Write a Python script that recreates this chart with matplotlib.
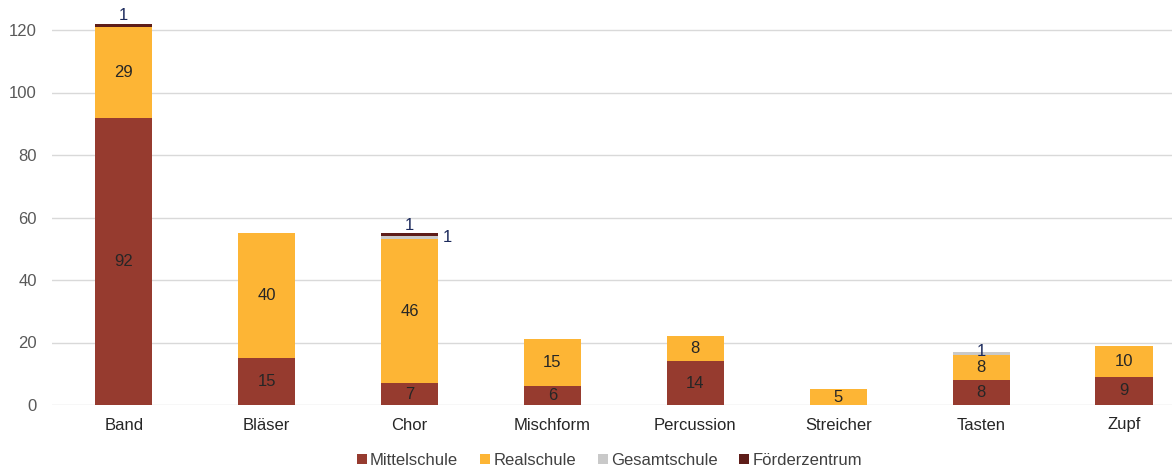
import matplotlib
matplotlib.use("Agg")
import matplotlib.pyplot as plt
import numpy as np

plt.rcParams['font.family'] = ['Liberation Sans', 'DejaVu Sans']

categories = ["Band", "Bläser", "Chor", "Mischform", "Percussion", "Streicher", "Tasten", "Zupf"]
mittelschule = [92, 15, 7, 6, 14, 0, 8, 9]
realschule = [29, 40, 46, 15, 8, 5, 8, 10]
gesamtschule = [0, 0, 1, 0, 0, 0, 1, 0]
foerderzentrum = [1, 0, 1, 0, 0, 0, 0, 0]
y_ticks = [0, 20, 40, 60, 80, 100, 120]

series = [
    ("Mittelschule", mittelschule, "#963B2F"),
    ("Realschule", realschule, "#FDB535"),
    ("Gesamtschule", gesamtschule, "#C9C9C9"),
    ("Förderzentrum", foerderzentrum, "#5E1D19"),
]

FS = 12

fig = plt.figure(figsize=(11.72, 4.66), dpi=100)
ax = fig.add_axes([52 / 1172, 61 / 466, 1 - 52 / 1172, 405 / 466])

x = np.arange(len(categories))
width = 0.4
bottom = np.zeros(len(categories))
label_dark = "#262626"
label_small = "#1C2A5C"

for name, vals, color in series:
    vals = np.array(vals, dtype=float)
    ax.bar(x, vals, width, bottom=bottom, color=color, label=name, zorder=3)
    for i, v in enumerate(vals):
        if v <= 0:
            continue
        mid = bottom[i] + v / 2
        top = bottom[i] + v
        if v >= 4:
            ax.text(x[i], mid, f"{int(v)}", ha="center", va="center",
                    fontsize=FS, color=label_dark, zorder=4)
        elif name == "Förderzentrum":
            ax.text(x[i], top + 0.2, f"{int(v)}", ha="center", va="bottom",
                    fontsize=FS, color=label_small, zorder=4)
        elif name == "Gesamtschule" and foerderzentrum[i] > 0:
            ax.text(x[i] + width / 2 + 0.03, mid, f"{int(v)}", ha="left", va="center",
                    fontsize=FS, color=label_small, zorder=4)
        else:
            ax.text(x[i], mid + 0.6, f"{int(v)}", ha="center", va="center",
                    fontsize=FS, color=label_small, zorder=4)
    bottom += vals

ax.set_xlim(-0.503, 7.336)
ax.set_ylim(0, 129.6)
ax.set_yticks(y_ticks)
ax.set_xticks(x)
ax.set_xticklabels(categories, fontsize=FS, color="#262626")
ax.tick_params(axis="y", labelsize=FS, labelcolor="#595959", length=0, pad=11)
ax.tick_params(axis="x", length=0, pad=9)
ax.yaxis.grid(True, color="#D9D9D9", linewidth=1, zorder=0)
for s in ax.spines.values():
    s.set_visible(False)

fig.legend(loc="lower center", bbox_to_anchor=(0.52, -0.036), ncol=4, frameon=False,
           fontsize=FS, handlelength=0.6, handleheight=0.6, handletextpad=0.2,
           columnspacing=1.3, labelcolor="#404040")

fig.savefig("out.png", dpi=100)
